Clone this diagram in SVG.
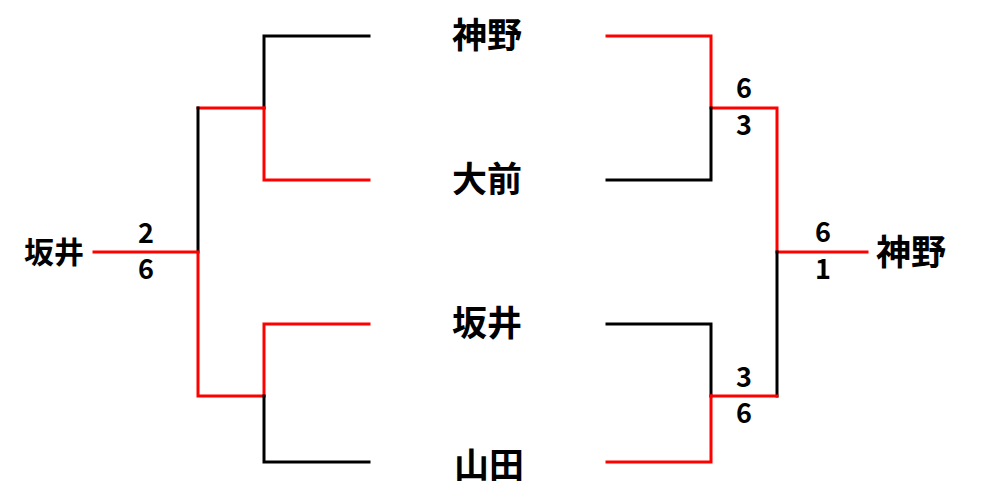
<svg xmlns="http://www.w3.org/2000/svg" width="1007" height="500" viewBox="0 0 1007 500">
<style>
.w{stroke:#ff0000;stroke-width:3;fill:none;stroke-linecap:square}
.l{stroke:#000;stroke-width:3;fill:none;stroke-linecap:square}
.n{font-family:"Noto Sans CJK JP","Noto Sans",sans-serif;font-weight:bold;font-size:35px;fill:#000;text-anchor:middle}
.s{font-family:"Noto Sans CJK JP","Noto Sans",sans-serif;font-weight:bold;font-size:27px;fill:#000;text-anchor:middle}
</style>
<rect width="1007" height="500" fill="#fff"/>
<g id="connectors">
<path class="l" d="M369 36H264V108"/>
<path class="w" d="M264 108V180H369"/>
<path class="w" d="M198 108H264"/>
<path class="l" d="M198 108V252"/>
<path class="w" d="M94 252H198V396H264"/>
<path class="w" d="M369 324H264V396"/>
<path class="l" d="M264 396V462H369"/>
<path class="w" d="M607 36H711V108H777V252H867"/>
<path class="l" d="M711 108V180H607"/>
<path class="l" d="M777 252V396"/>
<path class="l" d="M607 324H711V396"/>
<path class="w" d="M711 396H777"/>
<path class="w" d="M711 396V462H607"/>
</g>
<g id="player-kamino"><text class="n" x="487" y="48">神野</text></g>
<g id="player-omae"><text class="n" x="487" y="192">大前</text></g>
<g id="player-sakai"><text class="n" x="487" y="336">坂井</text></g>
<g id="player-yamada"><text class="n" x="489" y="478">山田</text></g>
<g id="winner-left"><text class="n" x="54" y="263" style="font-size:30px">坂井</text></g>
<g id="winner-right"><text class="n" x="911" y="265">神野</text></g>
<g id="scores">
<text class="s" x="146" y="243">2</text>
<text class="s" x="146" y="279">6</text>
<text class="s" x="744" y="98">6</text>
<text class="s" x="744" y="135">3</text>
<text class="s" x="744" y="387">3</text>
<text class="s" x="744" y="423">6</text>
<text class="s" x="823" y="242">6</text>
<text class="s" x="823" y="279">1</text>
</g>
</svg>
